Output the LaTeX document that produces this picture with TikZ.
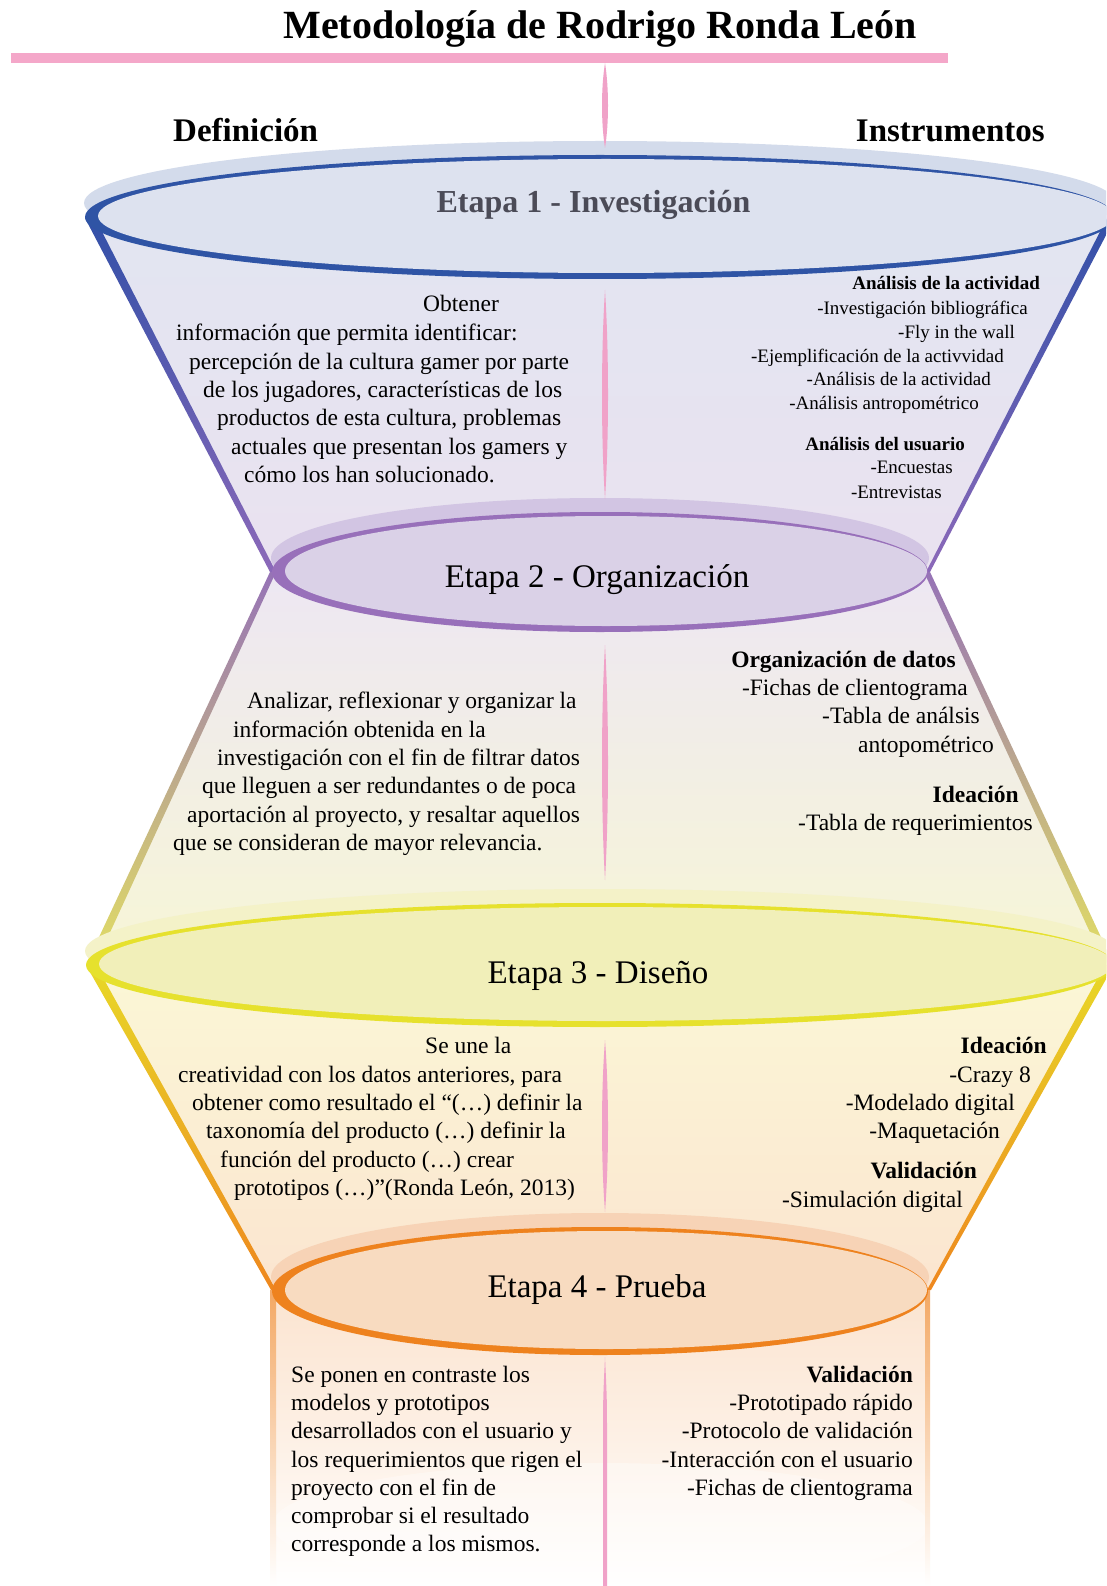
\documentclass[tikz,border=0pt]{standalone}
\usepackage{fontspec}
\setmainfont{Liberation Serif}
\definecolor{pinkc}{RGB}{240,162,200}
\definecolor{pinkbar}{RGB}{244,167,201}
\definecolor{ringA}{RGB}{47,84,165}
\definecolor{diskA}{RGB}{221,226,239}
\definecolor{rimA}{RGB}{211,219,235}
\definecolor{fAtop}{RGB}{226,229,241}
\definecolor{fAbot}{RGB}{234,226,240}
\definecolor{lAtop}{RGB}{50,80,168}
\definecolor{lAbot}{RGB}{140,105,185}
\definecolor{ringB}{RGB}{152,112,186}
\definecolor{diskB}{RGB}{218,209,231}
\definecolor{rimB}{RGB}{210,197,227}
\definecolor{fBtop}{RGB}{237,231,243}
\definecolor{fBbot}{RGB}{247,246,214}
\definecolor{lBtop}{RGB}{150,115,182}
\definecolor{lBmid}{RGB}{192,172,150}
\definecolor{lBbot}{RGB}{226,222,100}
\definecolor{ringC}{RGB}{230,225,45}
\definecolor{diskC}{RGB}{241,239,185}
\definecolor{rimC}{RGB}{244,242,200}
\definecolor{fCtop}{RGB}{251,247,214}
\definecolor{fCbot}{RGB}{251,229,208}
\definecolor{lCtop}{RGB}{232,216,40}
\definecolor{lCbot}{RGB}{238,135,30}
\definecolor{ringD}{RGB}{238,130,30}
\definecolor{diskD}{RGB}{248,219,192}
\definecolor{rimD}{RGB}{247,211,182}
\definecolor{fDtop}{RGB}{251,228,208}
\definecolor{lDtop}{RGB}{243,168,100}
\definecolor{etapaA}{RGB}{75,75,87}
\newcommand\mydisk[7]{%
  \fill[#5] (#1,#2-14) ellipse [x radius=#3pt+1pt, y radius=#4pt];
  \fill[#6] (#1,#2) ellipse [x radius=#3pt, y radius=#4pt];
  \fill[#7] (#1+6,#2-1) ellipse [x radius=#3pt-7pt, y radius=#4pt-5pt];
}
\begin{document}
\begin{tikzpicture}[x=1pt,y=-1pt,
  txt/.style={inner sep=0pt, font=\fontsize{23.5}{28}\selectfont},
  txtb/.style={inner sep=0pt, font=\fontsize{23.5}{28}\selectfont\bfseries},
  sml/.style={inner sep=0pt, font=\fontsize{19}{23}\selectfont},
  smlb/.style={inner sep=0pt, font=\fontsize{19}{23}\selectfont\bfseries},
  etapa/.style={inner sep=0pt, font=\fontsize{33}{36}\selectfont, anchor=base}]
\useasboundingbox (0,0) rectangle (1106,1586);
\fill[white] (0,0) rectangle (1106,1586);
\begin{scope}
\clip (0,0) rectangle (1106,1586);
% funnel fills
\shade[top color=fAtop, bottom color=fAbot] (85,218) -- (272,572) -- (928,572) -- (1115,218) -- cycle;
\shade[top color=fBtop, bottom color=fBbot] (272,572) -- (86,965) -- (1114,965) -- (928,572) -- cycle;
\shade[top color=fCtop, bottom color=fCbot] (86,965) -- (272,1290) -- (928,1290) -- (1114,965) -- cycle;
\shade[top color=fDtop, bottom color=white, middle color={rgb,255:red,253;green,240;blue,229}] (272,1290) rectangle (928,1586);
\fill[white, opacity=0.35] (600,1525) ellipse [x radius=328pt, y radius=62pt];
% funnel side lines
\shade[top color=lAtop, bottom color=lAbot] (85,218) -- (95,218) -- (276,572) -- (270,572) -- cycle;
\shade[top color=lAtop, bottom color=lAbot] (1115,218) -- (1107,218) -- (926,572) -- (930,572) -- cycle;
\shade[top color=lBtop, middle color=lBmid, bottom color=lBbot] (270,572) -- (276,572) -- (95,965) -- (86,965) -- cycle;
\shade[top color=lBtop, middle color=lBmid, bottom color=lBbot] (930,572) -- (924,572) -- (1105,965) -- (1114,965) -- cycle;
\shade[top color=lCtop, bottom color=lCbot] (86,965) -- (96,965) -- (276,1290) -- (271,1290) -- cycle;
\shade[top color=lCtop, bottom color=lCbot] (1114,965) -- (1105,965) -- (927,1290) -- (931,1290) -- cycle;
\shade[top color=lDtop, bottom color=white] (270,1290) rectangle (276,1586);
\shade[top color=lDtop, bottom color=white] (925,1290) rectangle (930,1586);
% disks
\mydisk{600}{217}{515}{62}{rimA}{ringA}{diskA}
\mydisk{600}{572}{328}{60}{rimB}{ringB}{diskB}
\mydisk{600}{965}{514}{62}{rimC}{ringC}{diskC}
\mydisk{600}{1291}{328}{64}{rimD}{ringD}{diskD}
\end{scope}
% title and bar
\fill[pinkbar] (11,53) rectangle (948,63);
\node[inner sep=0pt, anchor=base, font=\fontsize{40}{44}\selectfont\bfseries] (title) at (600,39) {Metodología de Rodrigo Ronda León};
% spindles
\fill[pinkc] (605,63) .. controls (609,88) and (609,123) .. (605,148) .. controls (601,123) and (601,88) .. (605,63) -- cycle;
\fill[pinkc] (605,290) .. controls (609,352) and (609,437) .. (605,499) .. controls (601,437) and (601,352) .. (605,290) -- cycle;
\fill[pinkc] (605,645) .. controls (609,715) and (609,810) .. (605,880) .. controls (601,810) and (601,715) .. (605,645) -- cycle;
\fill[pinkc] (605,1040) .. controls (609,1092) and (609,1160) .. (605,1212) .. controls (601,1160) and (601,1092) .. (605,1040) -- cycle;
\fill[pinkc] (605,1357) .. controls (607,1400) .. (607,1440) -- (607,1586) -- (603,1586) -- (603,1440) .. controls (603,1400) .. (605,1357) -- cycle;
% headers
\node[inner sep=0pt, anchor=base west, font=\fontsize{33}{36}\selectfont\bfseries] (defin) at (173,142) {Definición};
\node[inner sep=0pt, anchor=base east, font=\fontsize{33}{36}\selectfont\bfseries] (instr) at (1045,142) {Instrumentos};
% etapas
\node[inner sep=0pt, anchor=base, font=\fontsize{32}{36}\selectfont\bfseries, text=etapaA] (e1) at (593.5,213) {Etapa 1 - Investigación};
\node[etapa] (e2) at (597,587) {Etapa 2 - Organización};
\node[etapa] (e3) at (598,983) {Etapa 3 - Diseño};
\node[etapa] (e4) at (597,1297) {Etapa 4 - Prueba};
% stage 1 left
\node[txt, anchor=base west] (a1) at (423,312) {Obtener};
\node[txt, anchor=base west] (a2) at (176,340) {información que permita identificar:};
\node[txt, anchor=base west] (a3) at (189,369) {percepción de la cultura gamer por parte};
\node[txt, anchor=base west] (a4) at (203,397) {de los jugadores, características de los};
\node[txt, anchor=base west] (a5) at (217,425) {productos de esta cultura, problemas};
\node[txt, anchor=base west] (a6) at (231,454) {actuales que presentan los gamers y};
\node[txt, anchor=base west] (a7) at (244,482) {cómo los han solucionado.};
% stage 1 right
\node[smlb, anchor=base east] (b1) at (1040,290) {Análisis de la actividad};
\node[sml, anchor=base east] (b2) at (1028,315) {-Investigación bibliográfica};
\node[sml, anchor=base east] (b3) at (1015,338) {-Fly in the wall};
\node[sml, anchor=base east] (b4) at (1004,362) {-Ejemplificación de la activvidad};
\node[sml, anchor=base east] (b5) at (991,385) {-Análisis de la actividad};
\node[sml, anchor=base east] (b6) at (979,409) {-Análisis antropométrico};
\node[smlb, anchor=base east] (b7) at (965,450) {Análisis del usuario};
\node[sml, anchor=base east] (b8) at (953,473) {-Encuestas};
\node[sml, anchor=base east] (b9) at (942,498) {-Entrevistas};
% stage 2 left
\node[txt, anchor=base west] (c1) at (247,708) {Analizar, reflexionar y organizar la};
\node[txt, anchor=base west] (c2) at (233,737) {información obtenida en la};
\node[txt, anchor=base west] (c3) at (217,765) {investigación con el fin de filtrar datos};
\node[txt, anchor=base west] (c4) at (202,793) {que lleguen a ser redundantes o de poca};
\node[txt, anchor=base west] (c5) at (187,822) {aportación al proyecto, y resaltar aquellos};
\node[txt, anchor=base west] (c6) at (173,850) {que se consideran de mayor relevancia.};
% stage 2 right
\node[txtb, anchor=base east] (d1) at (956,667) {Organización de datos};
\node[txt, anchor=base east] (d2) at (968,695) {-Fichas de clientograma};
\node[txt, anchor=base east] (d3) at (980,723) {-Tabla de análsis};
\node[txt, anchor=base east] (d4) at (994,752) {antopométrico};
\node[txtb, anchor=base east] (d5) at (1019,802) {Ideación};
\node[txt, anchor=base east] (d6) at (1033,830) {-Tabla de requerimientos};
% stage 3 left
\node[txt, anchor=base west] (g1) at (425,1053) {Se une la};
\node[txt, anchor=base west] (g2) at (178,1082) {creatividad con los datos anteriores, para};
\node[txt, anchor=base west] (g3) at (192,1110) {obtener como resultado el “(…) definir la};
\node[txt, anchor=base west] (g4) at (206,1138) {taxonomía del producto (…) definir la};
\node[txt, anchor=base west] (g5) at (220,1167) {función del producto (…) crear};
\node[txt, anchor=base west] (g6) at (234,1195) {prototipos (…)”(Ronda León, 2013)};
% stage 3 right
\node[txtb, anchor=base east] (h1) at (1047,1053) {Ideación};
\node[txt, anchor=base east] (h2) at (1031,1082) {-Crazy 8};
\node[txt, anchor=base east] (h3) at (1015,1110) {-Modelado digital};
\node[txt, anchor=base east] (h4) at (1000,1138) {-Maquetación};
\node[txtb, anchor=base east] (h5) at (977,1178) {Validación};
\node[txt, anchor=base east] (h6) at (963,1207) {-Simulación digital};
% stage 4 left
\node[txt, anchor=base west] (k1) at (291,1382) {Se ponen en contraste los};
\node[txt, anchor=base west] (k2) at (291,1410) {modelos y prototipos};
\node[txt, anchor=base west] (k3) at (291,1438) {desarrollados con el usuario y};
\node[txt, anchor=base west] (k4) at (291,1467) {los requerimientos que rigen el};
\node[txt, anchor=base west] (k5) at (291,1495) {proyecto con el fin de};
\node[txt, anchor=base west] (k6) at (291,1523) {comprobar si el resultado};
\node[txt, anchor=base west] (k7) at (291,1551) {corresponde a los mismos.};
% stage 4 right
\node[txtb, anchor=base east] (m1) at (913,1382) {Validación};
\node[txt, anchor=base east] (m2) at (913,1410) {-Prototipado rápido};
\node[txt, anchor=base east] (m3) at (913,1438) {-Protocolo de validación};
\node[txt, anchor=base east] (m4) at (913,1467) {-Interacción con el usuario};
\node[txt, anchor=base east] (m5) at (913,1495) {-Fichas de clientograma};
\end{tikzpicture}
\end{document}
